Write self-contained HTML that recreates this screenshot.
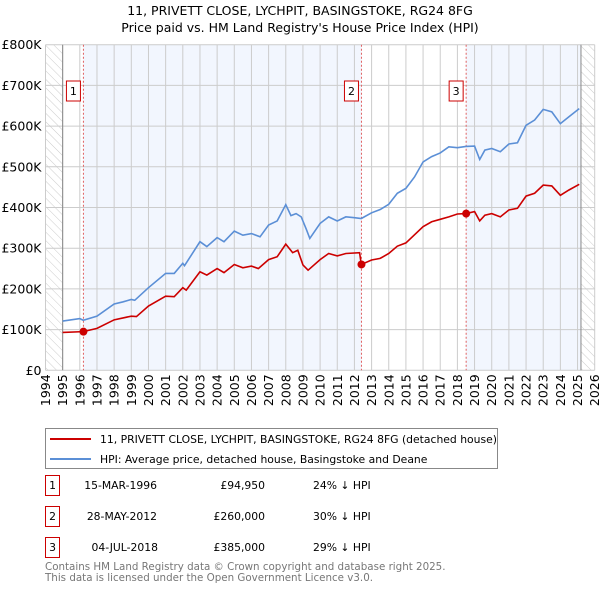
<!DOCTYPE html>
<html><head><meta charset="utf-8"><style>
body{margin:0;background:#fff;font-family:"Liberation Sans","DejaVu Sans",sans-serif}
svg{display:block}
</style></head><body>
<svg id="chart" width="600" height="590" xmlns="http://www.w3.org/2000/svg" font-family="DejaVu Sans, Liberation Sans, sans-serif">
<defs><pattern id="hatch" width="6" height="6" patternUnits="userSpaceOnUse" patternTransform="rotate(-45)"><line x1="0" y1="0" x2="0" y2="6" stroke="#ccc" stroke-width="1"/></pattern></defs>
<text x="300" y="15" text-anchor="middle" font-size="12.5">11, PRIVETT CLOSE, LYCHPIT, BASINGSTOKE, RG24 8FG</text>
<text x="300" y="32" text-anchor="middle" font-size="12.5">Price paid vs. HM Land Registry's House Price Index (HPI)</text>
<g id="plot"></g>
<g>
<rect x="45.5" y="428.5" width="452" height="40" fill="#fff" stroke="#888"/>
<line x1="50" y1="439" x2="91" y2="439" stroke="#cc0000" stroke-width="2"/>
<text x="100" y="443" font-size="10.8">11, PRIVETT CLOSE, LYCHPIT, BASINGSTOKE, RG24 8FG (detached house)</text>
<line x1="50" y1="459" x2="91" y2="459" stroke="#5b8fd6" stroke-width="2"/>
<text x="100" y="463" font-size="10.8">HPI: Average price, detached house, Basingstoke and Deane</text>
</g>
<g font-size="10.8">
<rect x="45.5" y="475.5" width="14" height="20" fill="#fff" stroke="#cc0000"/><text x="52.5" y="489" text-anchor="middle">1</text>
<text x="157" y="489" text-anchor="end">15-MAR-1996</text><text x="265" y="489" text-anchor="end">£94,950</text><text x="313" y="489">24% ↓ HPI</text>
<rect x="45.5" y="506.5" width="14" height="20" fill="#fff" stroke="#cc0000"/><text x="52.5" y="520" text-anchor="middle">2</text>
<text x="157" y="520" text-anchor="end">28-MAY-2012</text><text x="265" y="520" text-anchor="end">£260,000</text><text x="313" y="520">30% ↓ HPI</text>
<rect x="45.5" y="537.5" width="14" height="20" fill="#fff" stroke="#cc0000"/><text x="52.5" y="551" text-anchor="middle">3</text>
<text x="158" y="551" text-anchor="end">04-JUL-2018</text><text x="265" y="551" text-anchor="end">£385,000</text><text x="313" y="551">29% ↓ HPI</text>
</g>
<text x="45" y="570" font-size="10.3" fill="#777">Contains HM Land Registry data © Crown copyright and database right 2025.</text>
<text x="45" y="581" font-size="10.3" fill="#777">This data is licensed under the Open Government Licence v3.0.</text>
</svg>
<script>
const hpiYears=[1995,1996,1996.2,1997,1998,1998.5,1999,1999.2,2000,2001,2001.5,2002,2002.1,2003,2003.4,2004,2004.4,2005,2005.5,2006,2006.5,2007,2007.5,2008,2008.3,2008.6,2008.9,2009.2,2009.4,2010,2010.5,2011,2011.5,2012,2012.4,2013,2013.5,2014,2014.5,2015,2015.5,2016,2016.5,2017,2017.5,2018,2018.5,2019,2019.3,2019.6,2020,2020.5,2021,2021.5,2022,2022.5,2023,2023.5,2024,2024.5,2025.1];
const hpiValues=[121,127,123,133,163,168,174,172,203,238,238,263,257,316,304,326,316,342,332,336,328,357,367,407,380,385,377,346,324,361,377,367,377,375,373,387,395,408,435,447,475,512,525,534,549,547,550,551,518,541,545,537,556,559,602,615,641,635,606,623,643];
const paidYears=[1995,1996.2,1997,1998,1999,1999.3,2000,2001,2001.5,2002,2002.2,2003,2003.4,2004,2004.4,2005,2005.5,2006,2006.4,2007,2007.5,2008,2008.4,2008.7,2009,2009.3,2010,2010.5,2011,2011.5,2012.3,2012.4,2013,2013.5,2014,2014.5,2015,2016,2016.5,2017,2017.5,2018,2018.5,2019,2019.3,2019.6,2020,2020.5,2021,2021.5,2022,2022.5,2023,2023.5,2024,2024.5,2025.1];
const paidValues=[93,95,103,124,133,132,158,182,181,203,197,242,234,250,240,260,252,256,250,272,279,310,289,295,259,246,272,287,281,287,289,260,271,275,287,305,313,353,365,371,377,384,385,390,367,381,385,377,394,398,428,435,455,453,430,443,457];
const saleLabels=["1","2","3"];
const saleYears=[1996.21,2012.41,2018.51];
const saleValues=[94.95,260,385];
const yTicks=[0,100,200,300,400,500,600,700,800];
const yTickLabels=["£0","£100K","£200K","£300K","£400K","£500K","£600K","£700K","£800K"];
const xTicks=[];for(let y=1994;y<=2026;y++)xTicks.push(y);

const X0=45.5,X1=594.7,Y0=370.3,Y1=44.7,NS="http://www.w3.org/2000/svg";
const tx=y=>X0+(y-1994)/32*(X1-X0);
const ty=v=>Y0-v/800*(Y0-Y1);
const g=document.getElementById('plot');
function el(t,a,p){const e=document.createElementNS(NS,t);for(const k in a)e.setAttribute(k,a[k]);(p||g).appendChild(e);return e;}
let r=el('rect',{x:tx(saleYears[0]),y:Y1,width:tx(saleYears[1])-tx(saleYears[0]),height:Y0-Y1,fill:'#f2f6fe'});


r=el('rect',{x:tx(saleYears[2]),y:Y1,width:tx(2025.2)-tx(saleYears[2]),height:Y0-Y1,fill:'#f2f6fe'});


r=el('rect',{x:X0,y:Y1,width:tx(1995)-X0,height:Y0-Y1,fill:'url(#hatch)'});


r=el('rect',{x:tx(2025.2),y:Y1,width:X1-tx(2025.2),height:Y0-Y1,fill:'url(#hatch)'});


yTicks.forEach((v,i)=>{
 const l=el('line',{x1:X0,x2:X1,y1:ty(v),y2:ty(v),stroke:'#ccc'});
 
 
 const t=el('text',{x:X0-4,y:ty(v)+4.5,'text-anchor':'end','font-size':'12.5'});
 t.textContent=yTickLabels[i];
 
 
});
xTicks.forEach(y=>{
 const l=el('line',{x1:tx(y),x2:tx(y),y1:Y1,y2:Y0,stroke:'#ccc'});
 
 
 const t=el('text',{x:0,y:0,'text-anchor':'end','font-size':'12.5',transform:`translate(${tx(y)+4.5},${Y0+4}) rotate(-90)`});
 t.textContent=y;
 
 
});
el('line',{x1:tx(1995),x2:tx(1995),y1:Y1,y2:Y0,stroke:'#888'});
el('line',{x1:tx(2025.2),x2:tx(2025.2),y1:Y1,y2:Y0,stroke:'#888'});
saleYears.forEach((y,i)=>{
 const l=el('line',{x1:tx(y),x2:tx(y),y1:Y1,y2:Y0,stroke:'#e06060','stroke-dasharray':'2,2'});
 
 
 const b=el('rect',{x:tx(y)-17,y:81,width:14,height:20,fill:'#fff',stroke:'#cc0000'});
 
 
 const t=el('text',{x:tx(y)-10,y:95,'text-anchor':'middle','font-size':'11'});
 t.textContent=saleLabels[i];
 
 
});
const hp=el('polyline',{points:hpiYears.map((y,i)=>tx(y)+','+ty(hpiValues[i])).join(' '),fill:'none',stroke:'#5b8fd6','stroke-width':1.6});


const pp=el('polyline',{points:paidYears.map((y,i)=>tx(y)+','+ty(paidValues[i])).join(' '),fill:'none',stroke:'#cc0000','stroke-width':1.6});


saleYears.forEach((y,i)=>{
 const c=el('circle',{cx:tx(y),cy:ty(saleValues[i]),r:4,fill:'#cc0000'});
 
 
});
</script>
</body></html>
